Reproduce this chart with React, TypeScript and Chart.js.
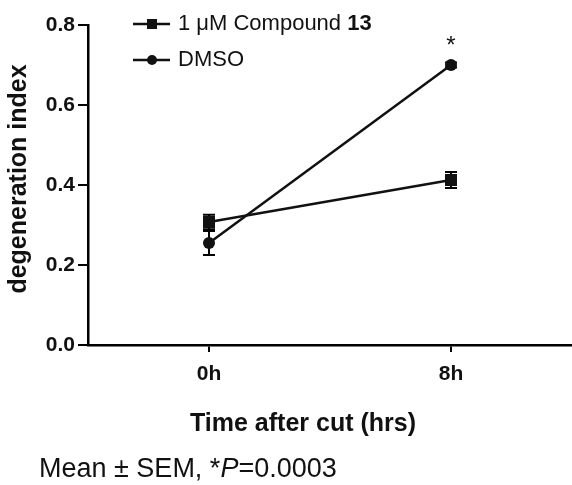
import React, { useEffect, useRef } from "react";
import { Chart, registerables } from "chart.js";

Chart.register(...registerables);

const categories = ["0h", "8h"];
const compoundMeans = [0.3075, 0.4125];
const compoundSem = [0.018, 0.02];
const dmsoMeans = [0.255, 0.7];
const dmsoSem = [0.03, 0.006];
const yTicks = [0, 0.2, 0.4, 0.6, 0.8];
const seriesLabels = ["1 μM Compound ", "DMSO"];

const FONT = "'Liberation Sans', Arial, sans-serif";

const overlayPlugin = {
  id: "overlay",
  beforeDatasetsDraw(chart: any) {
    const ctx = chart.ctx;
    const x = chart.scales.x;
    const y = chart.scales.y;
    ctx.save();
    const drawErr = (means: number[], sems: number[]) => {
      means.forEach((m, i) => {
        const px = x.getPixelForValue(i);
        const top = y.getPixelForValue(m + sems[i]);
        const bot = y.getPixelForValue(m - sems[i]);
        ctx.strokeStyle = "#000";
        ctx.lineWidth = 2;
        ctx.beginPath();
        ctx.moveTo(px, top);
        ctx.lineTo(px, bot);
        ctx.moveTo(px - 6, top);
        ctx.lineTo(px + 6, top);
        ctx.moveTo(px - 6, bot);
        ctx.lineTo(px + 6, bot);
        ctx.stroke();
      });
    };
    drawErr(compoundMeans, compoundSem);
    drawErr(dmsoMeans, dmsoSem);
    ctx.restore();
  },
  afterDatasetsDraw(chart: any) {
    const ctx = chart.ctx;
    const x = chart.scales.x;
    ctx.save();
    ctx.fillStyle = "#111";

    // asterisk
    ctx.font = `24px ${FONT}`;
    ctx.textAlign = "center";
    ctx.textBaseline = "middle";
    ctx.fillText("*", x.getPixelForValue(1), 46);

    // legend
    ctx.lineWidth = 2.5;
    ctx.strokeStyle = "#111";
    ctx.beginPath();
    ctx.moveTo(133, 24);
    ctx.lineTo(170, 24);
    ctx.moveTo(133, 60);
    ctx.lineTo(170, 60);
    ctx.stroke();
    ctx.fillRect(147, 19, 10, 10);
    ctx.beginPath();
    ctx.arc(152, 60, 5, 0, Math.PI * 2);
    ctx.fill();
    ctx.textAlign = "left";
    ctx.textBaseline = "alphabetic";
    ctx.font = `22px ${FONT}`;
    ctx.fillText(seriesLabels[0], 178, 30);
    const w = ctx.measureText(seriesLabels[0]).width;
    ctx.font = `bold 22px ${FONT}`;
    ctx.fillText("13", 178 + w, 30);
    ctx.font = `22px ${FONT}`;
    ctx.fillText(seriesLabels[1], 178, 66);

    // y axis title
    ctx.save();
    ctx.translate(19, 179);
    ctx.rotate(-Math.PI / 2);
    ctx.textAlign = "center";
    ctx.textBaseline = "middle";
    ctx.font = `bold 25px ${FONT}`;
    ctx.fillText("degeneration index", 0, 0);
    ctx.restore();

    // x axis title
    ctx.textAlign = "center";
    ctx.textBaseline = "alphabetic";
    ctx.font = `bold 25px ${FONT}`;
    ctx.fillText("Time after cut (hrs)", 303, 431);

    // footnote
    ctx.textAlign = "left";
    let cx = 39;
    const parts: [string, boolean][] = [
      ["Mean ± SEM, *", false],
      ["P", true],
      ["=0.0003", false],
    ];
    parts.forEach(([t, it]) => {
      ctx.font = `${it ? "italic " : ""}27px ${FONT}`;
      ctx.fillText(t, cx, 477);
      cx += ctx.measureText(t).width;
    });
    ctx.restore();
  },
};

export default function App() {
  const ref = useRef<HTMLCanvasElement>(null);
  useEffect(() => {
    document.body.style.margin = "0";
    const chart = new Chart(ref.current!, {
      type: "line",
      data: {
        datasets: [
          {
            label: "1 μM Compound 13",
            data: compoundMeans.map((v, i) => ({ x: i, y: v })),
            borderColor: "#111",
            backgroundColor: "#111",
            borderWidth: 2.5,
            pointStyle: "rect",
            pointRadius: 8.5,
            pointBorderWidth: 0,
            clip: false,
          },
          {
            label: "DMSO",
            data: dmsoMeans.map((v, i) => ({ x: i, y: v })),
            borderColor: "#111",
            backgroundColor: "#111",
            borderWidth: 2.5,
            pointStyle: "circle",
            pointRadius: 6,
            pointBorderWidth: 0,
            clip: false,
          },
        ],
      },
      options: {
        animation: false,
        responsive: false,
        layout: { autoPadding: false, padding: { top: 25, left: 0, right: 0, bottom: 0 } },
        plugins: { legend: { display: false }, tooltip: { enabled: false } },
        scales: {
          x: {
            type: "linear",
            min: -0.5,
            max: 1.5,
            afterFit(s: any) {
              s.height = 140;
            },
            afterBuildTicks(s: any) {
              s.ticks = categories.map((_, i) => ({ value: i }));
            },
            ticks: {
              callback: (v: any) => categories[v] ?? "",
              color: "#111",
              font: { family: FONT, size: 21, weight: "bold" },
              padding: 10,
            },
            grid: { drawOnChartArea: false, drawTicks: true, tickLength: 7, color: "#000", lineWidth: 2 },
            border: { display: true, color: "#000", width: 2.5 },
          },
          y: {
            min: 0,
            max: 0.8,
            afterFit(s: any) {
              s.width = 88;
            },
            afterBuildTicks(s: any) {
              s.ticks = yTicks.map((v) => ({ value: v }));
            },
            ticks: {
              callback: (v: any) => Number(v).toFixed(1),
              color: "#111",
              font: { family: FONT, size: 21, weight: "bold" },
              padding: 3,
            },
            grid: { drawOnChartArea: false, drawTicks: true, tickLength: 10, color: "#000", lineWidth: 2 },
            border: { display: true, color: "#000", width: 2.5 },
          },
        },
      },
      plugins: [overlayPlugin],
    } as any);
    return () => chart.destroy();
  }, []);
  return (
    <div style={{ position: "fixed", left: 0, top: 0, width: 572, height: 485, background: "#fff" }}>
      <canvas ref={ref} width={572} height={485} style={{ width: 572, height: 485 }} />
    </div>
  );
}
